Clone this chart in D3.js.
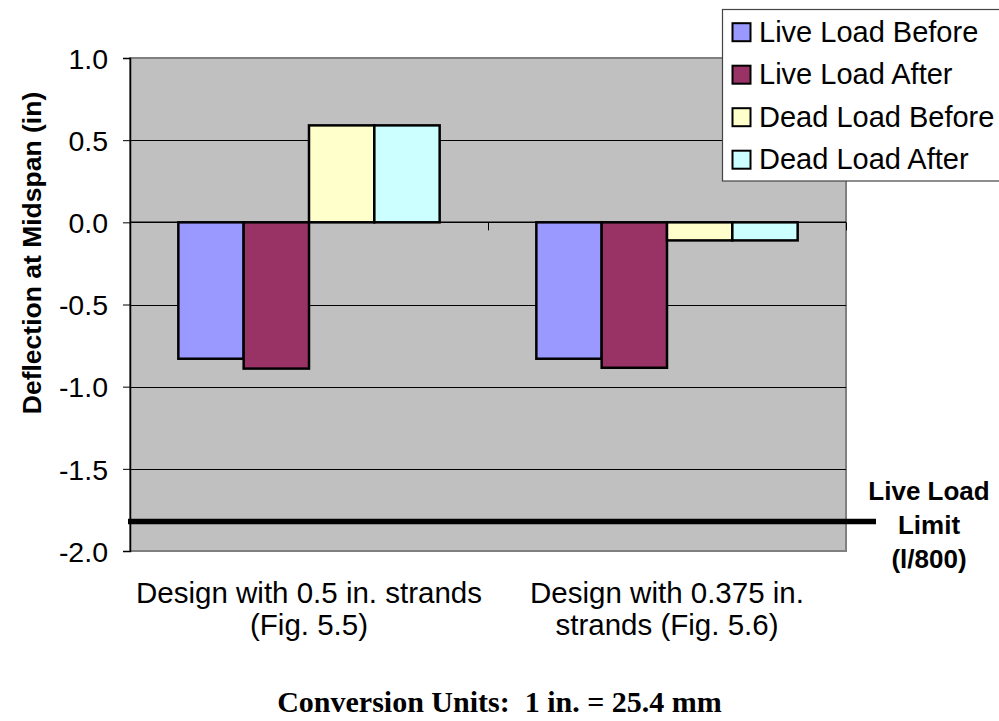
<!DOCTYPE html>
<html>
<head>
<meta charset="utf-8">
<script src="https://cdn.jsdelivr.net/npm/d3@7"></script>
<style>
  html, body { margin: 0; padding: 0; background: #fff; }
  svg { display: block; }
</style>
</head>
<body>
<svg id="chart" width="999" height="721"></svg>
<script>
// ---- data ----
const categories = [
  ["Design with 0.5 in. strands", "(Fig. 5.5)"],
  ["Design with 0.375 in.", "strands (Fig. 5.6)"]
];
const seriesNames = ["Live Load Before", "Live Load After", "Dead Load Before", "Dead Load After"];
const liveLoadBefore = [-0.83, -0.83];
const liveLoadAfter  = [-0.89, -0.885];
const deadLoadBefore = [0.59, -0.11];
const deadLoadAfter  = [0.59, -0.11];
const yTicks = [1.0, 0.5, 0.0, -0.5, -1.0, -1.5, -2.0];
const liveLoadLimit = -1.82;
const limitLabel = ["Live Load", "Limit", "(l/800)"];
const yTitle = "Deflection at Midspan (in)";
const footer = "Conversion Units:  1 in. = 25.4 mm";
const colors = ["#9999FF", "#993366", "#FFFFCC", "#CCFFFF"];

const seriesValues = [liveLoadBefore, liveLoadAfter, deadLoadBefore, deadLoadAfter];

// ---- layout ----
const svg = d3.select("#chart");
const plot = { left: 130, right: 846, top: 58, bottom: 551 };
const sans = "'Liberation Sans', Arial, sans-serif";

const y = d3.scaleLinear().domain([-2, 1]).range([plot.bottom, plot.top]);
const x0 = d3.scaleBand().domain(d3.range(categories.length)).range([plot.left, plot.right]).padding(0);
const x1 = d3.scaleBand().domain(d3.range(seriesNames.length)).range([0, x0.bandwidth()])
  .paddingInner(0).paddingOuter(0.74);

// plot background
svg.append("rect")
  .attr("x", plot.left).attr("y", plot.top)
  .attr("width", plot.right - plot.left).attr("height", plot.bottom - plot.top)
  .attr("fill", "#C0C0C0").attr("stroke", "#808080").attr("stroke-width", 2);

// gridlines
svg.append("g").selectAll("line")
  .data(yTicks.filter(t => t !== 0 && t !== 1 && t !== -2))
  .join("line")
  .attr("x1", plot.left).attr("x2", plot.right)
  .attr("y1", d => Math.round(y(d)) + 0.5).attr("y2", d => Math.round(y(d)) + 0.5)
  .attr("stroke", "#000").attr("stroke-width", 1);

// y axis
const fmt = d => d3.format(".1f")(d).replace("\u2212", "-");
const yAxis = d3.axisLeft(y).tickValues(yTicks).tickFormat(fmt).tickSize(7).tickPadding(15);
const gy = svg.append("g").attr("transform", `translate(${plot.left},0)`).call(yAxis);
gy.select(".domain").attr("stroke", "#000").attr("stroke-width", 1.5);
gy.selectAll(".tick line").attr("stroke", "#000");
gy.selectAll(".tick text").attr("font-family", sans).attr("font-size", 28.5).attr("fill", "#000")
  .attr("dy", "0.36em");

// bars
const groups = svg.append("g").selectAll("g")
  .data(categories.map((c, i) => i))
  .join("g")
  .attr("transform", i => `translate(${x0(i)},0)`);

groups.selectAll("rect")
  .data(i => seriesValues.map((vals, s) => ({ s, v: vals[i] })))
  .join("rect")
  .attr("x", d => x1(d.s))
  .attr("width", x1.bandwidth())
  .attr("y", d => y(Math.max(0, d.v)))
  .attr("height", d => Math.abs(y(d.v) - y(0)))
  .attr("fill", d => colors[d.s])
  .attr("stroke", "#000").attr("stroke-width", 2.5);

// category axis at zero
const xAxis = d3.axisBottom(d3.scaleLinear().domain([0, categories.length]).range([plot.left, plot.right]))
  .tickValues(d3.range(1, categories.length + 1)).tickSize(8).tickFormat("");
const gx = svg.append("g").attr("transform", `translate(0,${y(0)})`).call(xAxis);
gx.select(".domain").attr("stroke", "#000").attr("stroke-width", 1.5).attr("d", `M${plot.left},0H${plot.right}`);
gx.selectAll(".tick line").attr("stroke", "#000");

// category labels
const catLabels = svg.append("g");
categories.forEach((lines, i) => {
  const t = catLabels.append("text")
    .attr("x", x0(i) + x0.bandwidth() / 2)
    .attr("y", 603)
    .attr("text-anchor", "middle")
    .attr("font-family", sans).attr("font-size", 29.5).attr("fill", "#000");
  lines.forEach((ln, k) => {
    t.append("tspan").attr("x", x0(i) + x0.bandwidth() / 2).attr("dy", k === 0 ? 0 : 32).text(ln);
  });
});

// y title
svg.append("text")
  .attr("transform", "translate(41,253) rotate(-90)")
  .attr("text-anchor", "middle")
  .attr("font-family", sans).attr("font-size", 26.5).attr("font-weight", "bold").attr("fill", "#000")
  .text(yTitle);

// live load limit line
svg.append("line")
  .attr("x1", 128).attr("x2", 876)
  .attr("y1", y(liveLoadLimit)).attr("y2", y(liveLoadLimit))
  .attr("stroke", "#000").attr("stroke-width", 5.5);

const lim = svg.append("text")
  .attr("text-anchor", "middle")
  .attr("font-family", sans).attr("font-size", 26).attr("font-weight", "bold").attr("fill", "#000");
limitLabel.forEach((ln, k) => {
  lim.append("tspan").attr("x", 929).attr("y", 500 + k * 33.8).text(ln);
});

// legend
const legend = svg.append("g");
legend.append("rect")
  .attr("x", 722.5).attr("y", 9.5).attr("width", 300).attr("height", 171.5)
  .attr("fill", "#fff").attr("stroke", "#444").attr("stroke-width", 1.2);
seriesNames.forEach((name, s) => {
  const by = 41.7 + s * 42.5;
  legend.append("rect")
    .attr("x", 732.5).attr("y", by - 18.5).attr("width", 18).attr("height", 18)
    .attr("fill", colors[s]).attr("stroke", "#000").attr("stroke-width", 2);
  legend.append("text")
    .attr("x", 759).attr("y", by)
    .attr("font-family", sans).attr("font-size", 29).attr("fill", "#000")
    .text(name);
});

// footer
svg.append("text")
  .attr("x", 499.5).attr("y", 712)
  .attr("text-anchor", "middle")
  .attr("font-family", "'Liberation Serif', 'Times New Roman', serif")
  .attr("font-size", 30).attr("font-weight", "bold").attr("fill", "#000")
  .attr("xml:space", "preserve")
  .style("white-space", "pre")
  .text(footer);
</script>
</body>
</html>
